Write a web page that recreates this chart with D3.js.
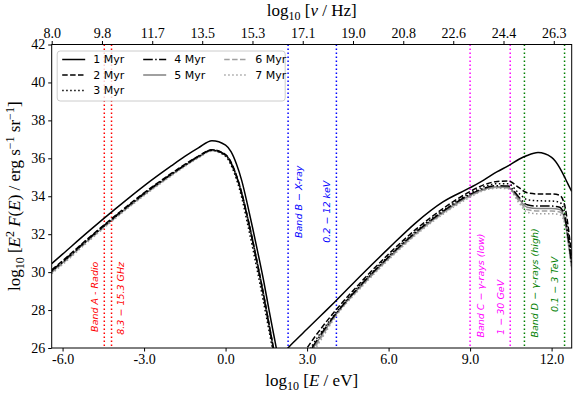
<!DOCTYPE html>
<html>
<head>
<meta charset="utf-8">
<script src="https://cdn.jsdelivr.net/npm/d3@7"></script>
<style>
  body { margin: 0; background: #fff; }
  svg { display: block; }
  .tick text { font-family: "Liberation Serif", serif; font-size: 14px; fill: #000; }
</style>
</head>
<body>
<svg id="svgId"></svg>
<script>
// series names (ages)
var seriesNames = ["1 Myr", "2 Myr", "3 Myr", "4 Myr", "5 Myr", "6 Myr", "7 Myr"];

// synchrotron bump, log10(E/eV)
var syncE = [-6.4, -6.0, -5.0, -4.0, -3.0, -2.0, -1.5, -1.0, -0.5, 0.0, 0.2, 0.4, 0.6, 0.8, 1.0, 1.2, 1.4, 1.6, 1.8, 2.0];
var sync1 = [30.45, 30.95, 32.2, 33.4, 34.55, 35.6, 36.1, 36.55, 36.93, 36.7, 36.35, 35.7, 34.8, 33.6, 32.3, 30.95, 29.55, 28.0, 26.5, 25.0];
var sync2 = [30.12, 30.6, 31.85, 33.05, 34.18, 35.2, 35.68, 36.12, 36.45, 36.2, 35.8, 35.1, 34.15, 32.95, 31.65, 30.25, 28.8, 27.25, 25.7, 24.2];
var sync3 = [30.05, 30.52, 31.78, 32.98, 34.12, 35.15, 35.63, 36.08, 36.42, 36.12, 35.65, 34.9, 33.9, 32.6, 31.25, 29.85, 28.4, 26.9, 25.4, 23.9];
var sync4 = [30.08, 30.56, 31.82, 33.02, 34.15, 35.17, 35.65, 36.1, 36.44, 36.17, 35.75, 35.05, 34.1, 32.9, 31.6, 30.2, 28.75, 27.2, 25.65, 24.1];
var sync5 = [30.02, 30.5, 31.77, 32.97, 34.1, 35.13, 35.62, 36.07, 36.42, 36.18, 35.78, 35.1, 34.15, 32.97, 31.7, 30.3, 28.85, 27.3, 25.75, 24.2];
var sync6 = [29.97, 30.45, 31.72, 32.93, 34.07, 35.1, 35.6, 36.05, 36.4, 36.15, 35.75, 35.05, 34.1, 32.9, 31.6, 30.2, 28.75, 27.2, 25.65, 24.1];
var sync7 = [29.92, 30.4, 31.68, 32.9, 34.03, 35.07, 35.57, 36.02, 36.38, 36.1, 35.7, 35.0, 34.02, 32.8, 31.5, 30.1, 28.65, 27.1, 25.55, 24.0];

// inverse Compton bump
var icE = [2.0, 2.5, 3.0, 3.5, 4.0, 5.0, 6.0, 7.0, 8.0, 9.0, 9.5, 10.0, 10.4, 10.8, 11.1, 11.5, 12.0, 12.3, 12.5, 12.6, 12.74];
var ic1 = [25.55, 26.3, 27.0, 27.7, 28.4, 29.85, 31.25, 32.6, 33.7, 34.45, 34.85, 35.3, 35.6, 35.95, 36.15, 36.3, 36.05, 35.5, 34.95, 34.65, 34.25];
var ic2 = [23.5, 24.8, 26.0, 27.0, 27.9, 29.5, 30.95, 32.25, 33.35, 34.25, 34.6, 34.78, 34.8, 34.45, 34.18, 34.12, 34.12, 34.05, 33.4, 32.5, 30.8];
var ic3 = [23.2, 24.5, 25.7, 26.8, 27.75, 29.4, 30.85, 32.15, 33.25, 34.15, 34.5, 34.66, 34.66, 34.15, 33.82, 33.76, 33.75, 33.68, 33.0, 32.1, 30.5];
var ic4 = [23.1, 24.4, 25.6, 26.7, 27.7, 29.35, 30.8, 32.1, 33.2, 34.1, 34.42, 34.56, 34.54, 33.95, 33.55, 33.48, 33.48, 33.42, 32.8, 31.9, 30.4];
var ic5 = [23.0, 24.3, 25.5, 26.6, 27.65, 29.3, 30.75, 32.05, 33.15, 34.05, 34.37, 34.5, 34.48, 33.85, 33.42, 33.35, 33.35, 33.3, 32.7, 31.8, 30.3];
var ic6 = [22.9, 24.2, 25.4, 26.5, 27.6, 29.25, 30.7, 32.0, 33.1, 34.0, 34.33, 34.46, 34.44, 33.75, 33.3, 33.22, 33.22, 33.17, 32.6, 31.7, 30.2];
var ic7 = [22.8, 24.1, 25.3, 26.4, 27.55, 29.2, 30.65, 31.95, 33.05, 33.95, 34.3, 34.42, 34.4, 33.65, 33.16, 33.08, 33.08, 33.03, 32.5, 31.6, 30.1];

// axis ticks
var xTicks = [-6, -3, 0, 3, 6, 9, 12];
var yTicks = [26, 28, 30, 32, 34, 36, 38, 40, 42];
var topTickE = [-6.40, -4.55, -2.70, -0.86, 0.99, 2.84, 4.69, 6.54, 8.38, 10.23, 12.08];
var topTickLabels = ["8.0", "9.8", "11.7", "13.5", "15.3", "17.1", "19.0", "20.8", "22.6", "24.4", "26.3"];

// observing bands (log10 E/eV of band edges)
var bandNames = ["Band A - Radio", "Band B \u2212 X-ray", "Band C \u2212 \u03b3-rays (low)", "Band D \u2212 \u03b3-rays (high)"];
var bandRanges = ["8.3 \u2212 15.3 GHz", "0.2 \u2212 12 keV", "1 \u2212 30 GeV", "0.1 \u2212 3 TeV"];
var bandLo = [-4.464, 2.301, 9.0, 11.0];
var bandHi = [-4.198, 4.079, 10.477, 12.477];
var bandColors = ["#ff0000", "#0000ff", "#ff00ff", "#008000"];
// y (data units) where the rotated labels start
var bandNameY = [26.85, 31.8, 26.55, 26.55];
var bandRangeY = [26.7, 31.55, 26.7, 27.9];

var styles = [
    { color: "#000", dash: null },
    { color: "#000", dash: "5.5,2.4" },
    { color: "#000", dash: "1.5,2.5" },
    { color: "#000", dash: "9.6,2.4,1.5,2.4" },
    { color: "#808080", dash: null },
    { color: "#a0a0a0", dash: "5.5,2.4" },
    { color: "#a0a0a0", dash: "1.5,2.5" }
];

function drawChart() {
    var svgWidth = 581, svgHeight = 397;
    var margin = { top: 44.5, right: 9.3, bottom: 49, left: 51.7 };
    var width = svgWidth - margin.left - margin.right;
    var height = svgHeight - margin.top - margin.bottom;

    var svg = d3.select("#svgId")
        .attr("width", svgWidth)
        .attr("height", svgHeight);

    var g = svg.append("g")
        .attr("transform", "translate(" + margin.left + "," + margin.top + ")");

    var x = d3.scaleLinear().domain([-6.40, 12.74]).range([0, width]);
    var y = d3.scaleLinear().domain([26, 42]).range([height, 0]);

    g.append("clipPath").attr("id", "clip")
        .append("rect").attr("width", width).attr("height", height);

    var plot = g.append("g").attr("clip-path", "url(#clip)");

    //band lines and labels
    bandLo.forEach(function (lo, i) {
        [lo, bandHi[i]].forEach(function (v) {
            plot.append("line")
                .attr("x1", x(v)).attr("x2", x(v))
                .attr("y1", 0).attr("y2", height)
                .attr("stroke", bandColors[i])
                .attr("stroke-width", 1.5)
                .attr("stroke-dasharray", "1.5,2.5");
        });
        // name label: band A sits left of its line, the others right
        var nameX = i === 0 ? x(lo) - 9.5 : x(lo) + 10;
        var rangeX = i === 0 ? x(bandHi[i]) + 9 : x(bandHi[i]) - 10;
        [[bandNames[i], nameX, bandNameY[i]], [bandRanges[i], rangeX, bandRangeY[i]]].forEach(function (t) {
            g.append("text")
                .attr("transform", "translate(" + t[1] + "," + y(t[2]) + ") rotate(-90)")
                .attr("dominant-baseline", "central")
                .attr("font-family", "DejaVu Sans")
                .attr("font-style", "italic")
                .attr("font-size", "9.5px")
                .attr("fill", bandColors[i])
                .text(t[0]);
        });
    });

    var line = d3.line()
        .x(function (d) { return x(d[0]); })
        .y(function (d) { return y(d[1]); })
        .curve(d3.curveMonotoneX);

    var syncAll = [sync1, sync2, sync3, sync4, sync5, sync6, sync7];
    var icAll = [ic1, ic2, ic3, ic4, ic5, ic6, ic7];

    //画曲线, draw last series first so 1 Myr is on top
    for (var k = 6; k >= 0; k--) {
        [[syncE, syncAll[k]], [icE, icAll[k]]].forEach(function (pair) {
            var pts = pair[0].map(function (e, j) { return [e, pair[1][j]]; });
            plot.append("path")
                .datum(pts)
                .attr("fill", "none")
                .attr("stroke", styles[k].color)
                .attr("stroke-width", 1.5)
                .attr("stroke-dasharray", styles[k].dash)
                .attr("d", line);
        });
    }

    // axes
    g.append("g")
        .attr("transform", "translate(0," + height + ")")
        .call(d3.axisBottom(x).tickValues(xTicks).tickFormat(function (d) { return d.toFixed(1); })
            .tickSizeOuter(0).tickSize(3.5).tickPadding(3));

    g.append("g")
        .call(d3.axisLeft(y).tickValues(yTicks).tickFormat(d3.format("d")).tickSizeOuter(0).tickSize(3.5).tickPadding(3));

    g.append("g")
        .call(d3.axisTop(x).tickValues(topTickE).tickFormat(function (d, i) { return topTickLabels[i]; })
            .tickSizeOuter(0).tickSize(3.5).tickPadding(3));

    g.selectAll(".domain").remove();

    // frame
    g.append("rect")
        .attr("width", width).attr("height", height)
        .attr("fill", "none").attr("stroke", "#000").attr("stroke-width", 1);

    // legend
    var lg = g.append("g").attr("transform", "translate(5.5,6.5)");
    lg.append("rect")
        .attr("width", 228).attr("height", 50)
        .attr("rx", 3).attr("ry", 3)
        .attr("fill", "#fff").attr("fill-opacity", 0.8)
        .attr("stroke", "#cccccc").attr("stroke-width", 1);

    var legendPos = [[0, 0], [0, 1], [0, 2], [1, 0], [1, 1], [2, 0], [2, 1]];
    seriesNames.forEach(function (name, i) {
        var cx = 5 + legendPos[i][0] * 81;
        var cy = 8.5 + legendPos[i][1] * 15.5;
        lg.append("line")
            .attr("x1", cx).attr("x2", cx + 23)
            .attr("y1", cy).attr("y2", cy)
            .attr("stroke", styles[i].color)
            .attr("stroke-width", 1.5)
            .attr("stroke-dasharray", styles[i].dash);
        lg.append("text")
            .attr("x", cx + 31).attr("y", cy)
            .attr("dominant-baseline", "central")
            .attr("font-family", "DejaVu Sans")
            .attr("font-size", "11px")
            .text(name);
    });

    // axis titles
    var xt = svg.append("text")
        .attr("x", margin.left + width / 2).attr("y", 386)
        .attr("text-anchor", "middle")
        .attr("font-family", "Liberation Serif").attr("font-size", "17px");
    xt.append("tspan").text("log");
    xt.append("tspan").attr("font-size", "12px").attr("dy", 4).text("10");
    xt.append("tspan").attr("dy", -4).text(" [");
    xt.append("tspan").attr("font-style", "italic").text("E");
    xt.append("tspan").text(" / eV]");

    var tt = svg.append("text")
        .attr("x", margin.left + width / 2).attr("y", 16)
        .attr("text-anchor", "middle")
        .attr("font-family", "Liberation Serif").attr("font-size", "17px");
    tt.append("tspan").text("log");
    tt.append("tspan").attr("font-size", "12px").attr("dy", 4).text("10");
    tt.append("tspan").attr("dy", -4).text(" [");
    tt.append("tspan").attr("font-style", "italic").text("\u03bd");
    tt.append("tspan").text(" / Hz]");

    var yt = svg.append("text")
        .attr("transform", "translate(20," + (margin.top + height / 2) + ") rotate(-90)")
        .attr("text-anchor", "middle")
        .attr("font-family", "Liberation Serif").attr("font-size", "17px");
    yt.append("tspan").text("log");
    yt.append("tspan").attr("font-size", "12px").attr("dy", 4).text("10");
    yt.append("tspan").attr("dy", -4).text(" [");
    yt.append("tspan").attr("font-style", "italic").text("E");
    yt.append("tspan").attr("font-size", "12px").attr("dy", -6).text("2");
    yt.append("tspan").attr("dy", 6).text(" ");
    yt.append("tspan").attr("font-style", "italic").text("F");
    yt.append("tspan").text("(");
    yt.append("tspan").attr("font-style", "italic").text("E");
    yt.append("tspan").text(") / erg s");
    yt.append("tspan").attr("font-size", "12px").attr("dy", -6).text("\u22121");
    yt.append("tspan").attr("dy", 6).text(" sr");
    yt.append("tspan").attr("font-size", "12px").attr("dy", -6).text("\u22121");
    yt.append("tspan").attr("dy", 6).text("]");
}

drawChart();
</script>
</body>
</html>
